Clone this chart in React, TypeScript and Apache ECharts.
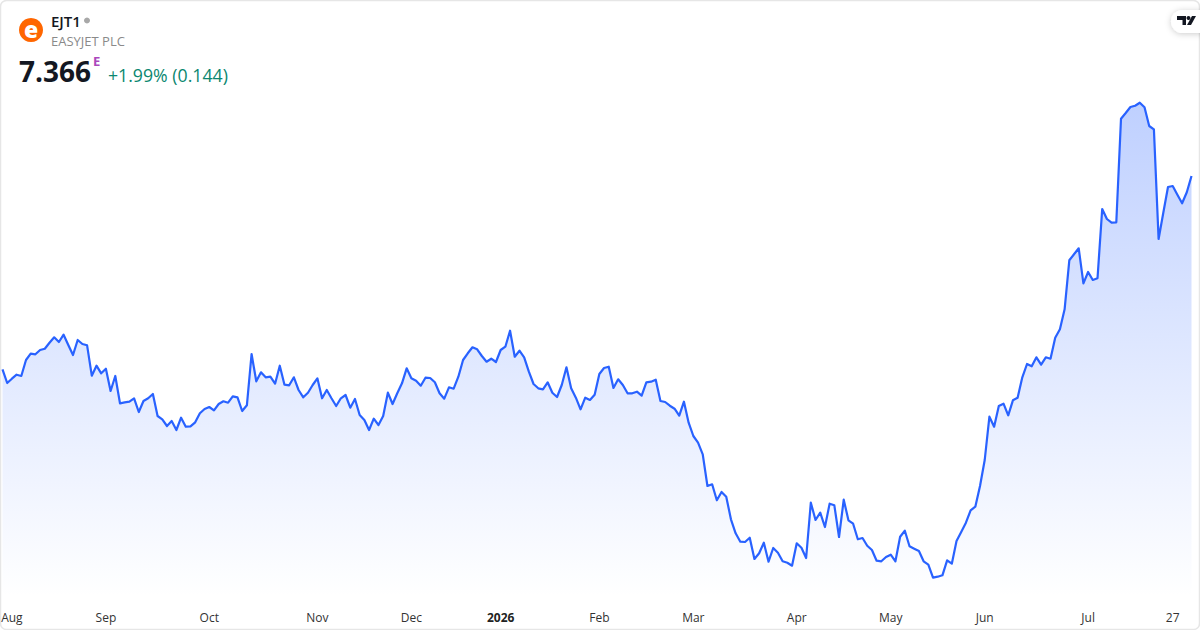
import React, { useEffect, useRef } from "react";
import * as echarts from "echarts";

const prices = [
  5.433,5.296,5.339,5.379,5.366,5.526,5.589,5.583,5.626,5.639,5.699,5.753,5.706,5.779,5.676,5.576,5.726,5.686,5.673,5.369,
  5.469,5.393,5.439,5.216,5.366,5.093,5.103,5.109,5.143,5.006,5.116,5.143,5.186,4.966,4.933,4.866,4.916,4.826,4.949,4.859,
  4.863,4.903,4.993,5.036,5.056,5.023,5.086,5.113,5.099,5.163,5.153,5.016,5.073,5.586,5.313,5.403,5.353,5.359,5.289,5.469,
  5.279,5.273,5.353,5.226,5.153,5.199,5.276,5.343,5.143,5.226,5.143,5.066,5.143,5.176,5.049,5.136,4.976,4.926,4.826,4.939,
  4.876,4.966,5.199,5.086,5.193,5.293,5.443,5.343,5.319,5.269,5.349,5.346,5.303,5.193,5.139,5.253,5.239,5.359,5.526,5.593,
  5.653,5.633,5.566,5.509,5.539,5.506,5.626,5.659,5.819,5.559,5.619,5.553,5.409,5.286,5.243,5.233,5.303,5.199,5.156,5.276,
  5.453,5.243,5.149,5.033,5.149,5.126,5.179,5.386,5.446,5.459,5.246,5.333,5.276,5.193,5.193,5.209,5.169,5.303,5.309,5.329,
  5.116,5.106,5.069,5.039,4.969,5.109,4.899,4.766,4.699,4.583,4.266,4.283,4.123,4.206,4.159,3.933,3.793,3.709,3.706,3.749,
  3.536,3.593,3.699,3.509,3.646,3.599,3.513,3.499,3.469,3.693,3.649,3.546,4.099,3.926,3.999,3.856,4.089,4.073,3.756,4.129,
  3.923,3.889,3.733,3.746,3.669,3.626,3.519,3.513,3.556,3.579,3.513,3.759,3.819,3.663,3.639,3.616,3.513,3.479,3.349,3.359,
  3.373,3.523,3.489,3.716,3.806,3.899,4.023,4.059,4.266,4.526,4.959,4.859,5.066,5.089,4.973,5.123,5.149,5.353,5.486,5.463,
  5.553,5.479,5.553,5.539,5.749,5.833,6.033,6.523,6.583,6.643,6.293,6.406,6.326,6.343,7.036,6.936,6.899,6.903,7.939,7.996,
  8.056,8.069,8.099,8.053,7.866,7.833,6.736,6.999,7.256,7.266,7.179,7.093,7.203,7.366,
];
const tickLabels = ["Aug", "Sep", "Oct", "Nov", "Dec", "2026", "Feb", "Mar", "Apr", "May", "Jun", "Jul", "27"];
const tickIndexes = [2, 22, 44, 67, 87, 106, 127, 147, 169, 189, 209, 231, 249];
const categories = prices.map((_, i) => {
  const k = tickIndexes.indexOf(i);
  return k >= 0 ? tickLabels[k] : "";
});
const FONT = '"Open Sans", "Noto Sans", sans-serif';

export default function App() {
  const ref = useRef<HTMLDivElement>(null);
  useEffect(() => {
    document.body.style.margin = "0";
    const chart = echarts.init(ref.current!, null, { renderer: "svg" });
    chart.setOption({
      animation: false,
      backgroundColor: "#ffffff",
      grid: { left: 2.5, right: 8.5, top: 0, height: 597, outerBoundsMode: "none" },
      xAxis: {
        type: "category",
        data: categories,
        boundaryGap: false,
        axisLine: { show: false },
        axisTick: { show: false },
        splitLine: { show: false },
        axisLabel: {
          interval: (_: number, v: string) => v !== "",
          margin: 14,
          color: "#333333",
          fontFamily: FONT,
          fontSize: 12,
          formatter: (v: string) => (v === "2026" ? "{b|2026}" : v),
          rich: { b: { fontWeight: "bold", color: "#222222", fontFamily: FONT, fontSize: 12 } },
        },
      },
      yAxis: { type: "value", min: 3.156, max: 9.126, show: false, splitLine: { show: false } },
      series: [
        {
          type: "line",
          data: prices,
          symbol: "none",
          lineStyle: { color: "#2962ff", width: 2.2, join: "round" },
          areaStyle: {
            color: new echarts.graphic.LinearGradient(0, 0, 0, 1, [
              { offset: 0, color: "rgba(41,98,255,0.3)" },
              { offset: 1, color: "rgba(41,98,255,0.0)" },
            ]),
            opacity: 1,
          },
        },
      ],
      graphic: [
        { type: "rect", shape: { x: 0.5, y: 0.5, width: 1199, height: 629, r: 6 }, style: { fill: "none", stroke: "#e6e6e6", lineWidth: 1.5 }, silent: true },
        { type: "circle", shape: { cx: 31, cy: 30, r: 12 }, style: { fill: "#ff6600" } },
        { type: "text", x: 31, y: 29, style: { text: "e", fill: "#ffffff", font: `800 23px ${FONT}`, align: "center", verticalAlign: "middle" } },
        { type: "text", x: 51, y: 21, style: { text: "EJT1", fill: "#131722", font: `600 15px ${FONT}`, align: "left", verticalAlign: "middle" } },
        { type: "circle", shape: { cx: 87, cy: 20.5, r: 3 }, style: { fill: "#a8a8a8" } },
        { type: "text", x: 51, y: 41, style: { text: "EASYJET PLC", fill: "#8a8a8a", font: `13px ${FONT}`, align: "left", verticalAlign: "middle" } },
        { type: "text", x: 19, y: 71, style: { text: "7.366", fill: "#131722", font: `bold 28px ${FONT}`, align: "left", verticalAlign: "middle" } },
        { type: "text", x: 93, y: 61, style: { text: "E", fill: "#ab47bc", font: `bold 13px ${FONT}`, align: "left", verticalAlign: "middle" } },
        { type: "text", x: 108, y: 75, style: { text: "+1.99% (0.144)", fill: "#0b8770", font: `17.7px ${FONT}`, align: "left", verticalAlign: "middle" } },
        { type: "rect", shape: { x: 1171, y: 10, width: 40, height: 23, r: 11.5 }, style: { fill: "#ffffff", shadowBlur: 6, shadowColor: "rgba(0,0,0,0.2)", shadowOffsetY: 1 } },
        { type: "polygon", shape: { points: [[1177, 16], [1186, 16], [1186, 25], [1182.5, 25], [1182.5, 20], [1177, 20]] }, style: { fill: "#131722" } },
        { type: "circle", shape: { cx: 1188.5, cy: 18, r: 2 }, style: { fill: "#131722" } },
        { type: "polygon", shape: { points: [[1192, 16], [1196, 16], [1191, 25], [1187, 25]] }, style: { fill: "#131722" } },
      ],
    });
    return () => chart.dispose();
  }, []);
  return <div ref={ref} style={{ width: 1200, height: 630 }} />;
}
